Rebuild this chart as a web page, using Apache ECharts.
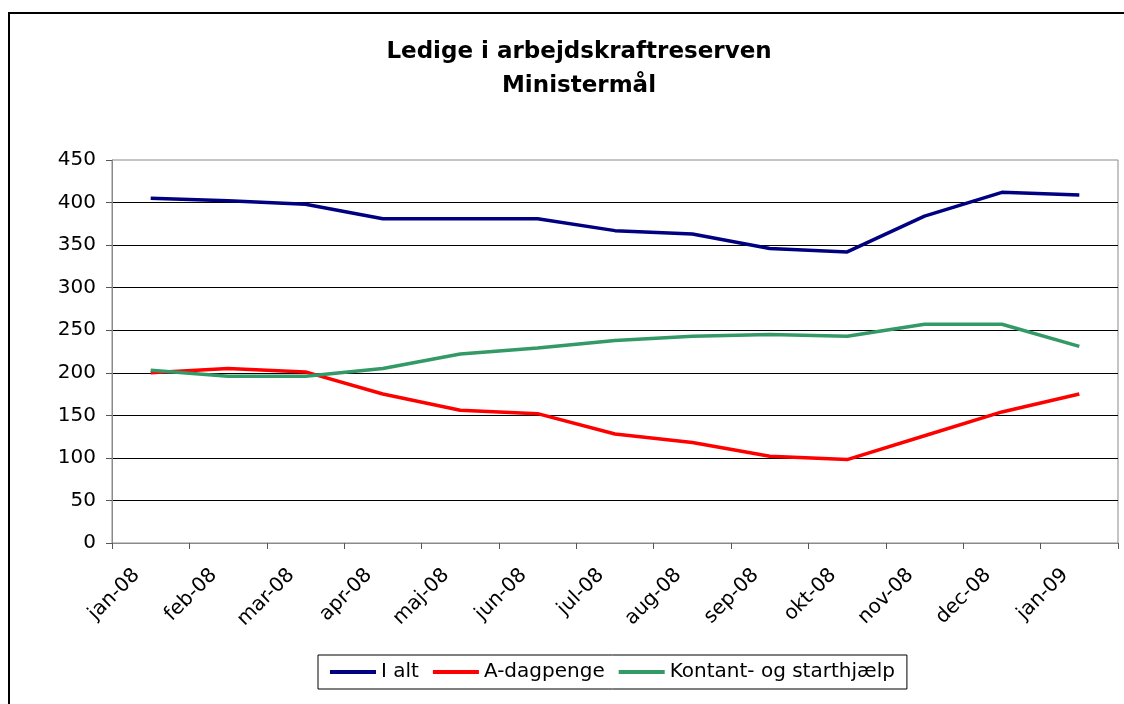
<!DOCTYPE html>
<html>
<head>
<meta charset="utf-8">
<script src="https://cdn.jsdelivr.net/npm/echarts@6/dist/echarts.min.js"></script>
<style>
html,body{margin:0;padding:0;background:#fff;}
#chart{width:1124px;height:704px;}
</style>
</head>
<body>
<div id="chart"></div>
<script>
var categories = ['jan-08','feb-08','mar-08','apr-08','maj-08','jun-08','jul-08','aug-08','sep-08','okt-08','nov-08','dec-08','jan-09'];
var iAlt = [405, 402, 398, 381, 381, 381, 367, 363, 346, 342, 384, 412, 409];
var aDagpenge = [200, 205, 201, 175, 156, 152, 128, 118, 102, 98, 126, 154, 175];
var kontant = [203, 196, 196, 205, 222, 229, 238, 243, 245, 243, 257, 257, 231];
var seriesNames = ['I alt', 'A-dagpenge', 'Kontant- og starthjælp'];
var titleLines = ['Ledige i arbejdskraftreserven', 'Ministermål'];

var FONT = 'DejaVu Sans';
var chart = echarts.init(document.getElementById('chart'), null, {renderer: 'canvas'});
var option = {
  backgroundColor: '#ffffff',
  animation: false,
  title: {
    text: titleLines.join('\n'),
    left: 574,
    textAlign: 'center',
    top: 30,
    textStyle: {fontFamily: FONT, fontWeight: 'bold', fontSize: 23, color: '#000', lineHeight: 34}
  },
  graphic: [{
    type: 'rect',
    shape: {x: 9, y: 13, width: 1200, height: 800},
    style: {fill: 'none', stroke: '#000', lineWidth: 2},
    silent: true
  }],
  legend: {
    data: seriesNames,
    left: 318,
    top: 655,
    padding: [7, 12],
    borderColor: '#000',
    borderWidth: 1,
    icon: 'rect',
    itemWidth: 46,
    itemHeight: 4,
    itemGap: 14,
    textStyle: {fontFamily: FONT, fontSize: 20, color: '#000'}
  },
  grid: {
    left: 112, right: 6, top: 160, bottom: 161,
    show: true, borderColor: '#8a8a8a', borderWidth: 1, backgroundColor: 'transparent'
  },
  xAxis: {
    type: 'category',
    data: categories,
    boundaryGap: true,
    axisLine: {show: true, lineStyle: {color: '#8a8a8a', width: 1}},
    axisTick: {show: true, length: 6, interval: 0, lineStyle: {color: '#555'}},
    axisLabel: {
      interval: 0, rotate: 45, margin: 15, padding: [0, 20, 0, 0],
      fontFamily: FONT, fontSize: 20, color: '#000'
    },
    splitLine: {show: false}
  },
  yAxis: {
    type: 'value',
    min: 0, max: 450, interval: 50,
    axisLine: {show: true, lineStyle: {color: '#8a8a8a', width: 1}},
    axisTick: {show: true, length: 6, lineStyle: {color: '#555'}},
    axisLabel: {margin: 16, fontFamily: FONT, fontSize: 20, color: '#000'},
    splitLine: {show: true, showMinLine: false, showMaxLine: false, lineStyle: {color: '#000', width: 1}}
  },
  series: [
    {name: seriesNames[0], type: 'line', data: iAlt, symbol: 'none', lineStyle: {color: '#000080', width: 3.5}, itemStyle: {color: '#000080'}},
    {name: seriesNames[1], type: 'line', data: aDagpenge, symbol: 'none', lineStyle: {color: '#ff0000', width: 3.5}, itemStyle: {color: '#ff0000'}},
    {name: seriesNames[2], type: 'line', data: kontant, symbol: 'none', lineStyle: {color: '#339966', width: 3.5}, itemStyle: {color: '#339966'}}
  ]
};
chart.setOption(option);
</script>
</body>
</html>
